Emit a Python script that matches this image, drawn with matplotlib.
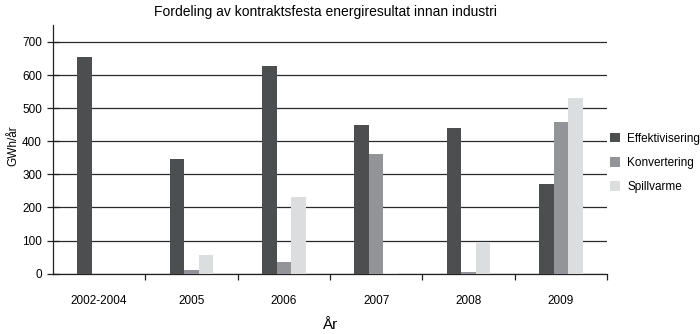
import matplotlib
matplotlib.use("Agg")
import matplotlib.pyplot as plt
import numpy as np

categories = ["2002-2004", "2005", "2006", "2007", "2008", "2009"]
effektivisering = [654, 346, 627, 450, 441, 271]
konvertering = [0, 12, 34, 362, 4, 459]
spillvarme = [0, 56, 231, 3, 94, 532]
series_names = ["Effektivisering", "Konvertering", "Spillvarme"]
colors = ["#4d4e50", "#939497", "#dcdddf"]
yticks = [0, 100, 200, 300, 400, 500, 600, 700]

plt.rcParams['font.family'] = ['Liberation Sans', 'DejaVu Sans']

fig = plt.figure(figsize=(7.0, 3.34), dpi=100)
ax = fig.add_axes([53/700, 60.3/334, 554/700, (273.7-25)/334])

x = np.arange(len(categories))
w = 0.157
for i, (vals, name, c) in enumerate(zip([effektivisering, konvertering, spillvarme], series_names, colors)):
    ax.bar(x + (i - 1) * w, vals, width=w, color=c, label=name, zorder=3, edgecolor='none')

ax.set_xlim(-0.5, len(categories) - 0.5)
ax.set_ylim(0, 751)
ax.set_yticks(yticks)
ax.yaxis.grid(True, color="#2a2a2a", linewidth=0.9, zorder=0)
ax.set_axisbelow(True)

for s in ["top", "right"]:
    ax.spines[s].set_visible(False)
ax.spines["left"].set_color("#222222")
ax.spines["bottom"].set_color("#222222")
ax.spines["left"].set_linewidth(0.9)
ax.spines["bottom"].set_linewidth(0.9)

ax.set_xticks(x)
ax.set_xticklabels(categories, fontsize=8.5)
ax.tick_params(axis='x', which='major', length=0, pad=15)
ax.set_xticks(np.arange(0.5, len(categories), 1.0), minor=True)
ax.tick_params(axis='x', which='minor', direction='out', length=4, width=0.9, color="#222222")
ax.tick_params(axis='y', which='major', direction='inout', length=8, width=0.9, color="#222222",
               labelsize=8.5, pad=4)

ax.set_xlabel("År", fontsize=11, labelpad=8)
fig.text(7/700, 1 - 146/334, "GWh/år", rotation=90, ha='left', va='center', fontsize=8.5)
fig.text(326/700, 1 - 12/334, "Fordeling av kontraktsfesta energiresultat innan industri",
         ha='center', va='center', fontsize=10)

leg = ax.legend(loc='center left', bbox_to_anchor=(1.005, 0.445), frameon=False,
                handlelength=0.9, handleheight=0.9, handletextpad=0.6,
                labelspacing=1.05, fontsize=8.5, borderaxespad=0, borderpad=0)

fig.savefig("out.png", dpi=100)
